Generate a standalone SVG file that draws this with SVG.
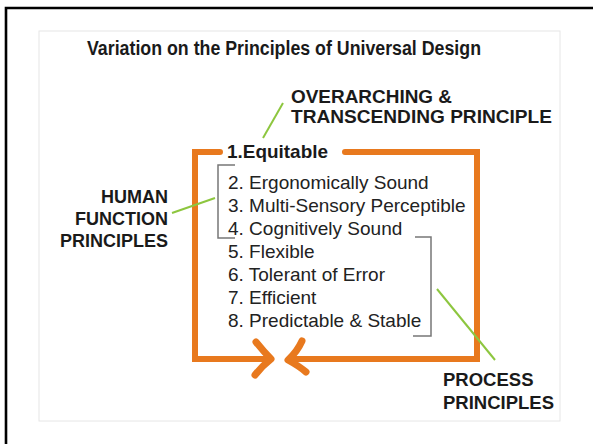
<svg xmlns="http://www.w3.org/2000/svg" width="593" height="444" viewBox="0 0 593 444">
<style>
.b{font-family:"Liberation Sans",Arial,sans-serif;font-weight:bold;fill:#1a1a1a}
.r{font-family:"Liberation Sans",Arial,sans-serif;fill:#222}
.o{fill:none;stroke:#E8791E;stroke-width:6;stroke-linecap:round;stroke-linejoin:miter}
.a{fill:none;stroke:#E8791E;stroke-width:7;stroke-linecap:round;stroke-linejoin:round}
.g{fill:none;stroke:#8DC63F;stroke-width:2}
.k{fill:none;stroke:#777;stroke-width:1.5}
</style>
<rect width="593" height="444" fill="#fff"/>
<path d="M6 444 V8 H593" fill="none" stroke="#000" stroke-width="2.6"/>
<rect x="39" y="31" width="521" height="390" fill="#fff" stroke="#e6e6e6" stroke-width="1"/>
<g id="title"><text class="b" x="87" y="55" font-size="19.5" textLength="394" lengthAdjust="spacingAndGlyphs">Variation on the Principles of  Universal Design</text></g>
<g id="connectors">
<path class="o" d="M220 152 H195 V359 H270"/>
<path class="a" d="M256 342 Q264 352 271 359 Q262 366 255 375"/>
<path class="o" d="M345 152 H477 V359 H290"/>
<path class="a" d="M302 341 Q297 352 288 360 Q299 366 306 372"/>
<path class="k" d="M235 165 H218 V238 H235"/>
<path class="k" d="M415 237 H431 V336 H413"/>
<line class="g" x1="283" y1="103" x2="263" y2="138"/>
<line class="g" x1="172" y1="213" x2="215" y2="198"/>
<line class="g" x1="437" y1="289" x2="495" y2="360"/>
</g>
<g id="overarching"><text class="b" font-size="19"><tspan x="291" y="103" textLength="161" lengthAdjust="spacingAndGlyphs">OVERARCHING &amp;</tspan><tspan x="291" y="123" textLength="261" lengthAdjust="spacingAndGlyphs">TRANSCENDING PRINCIPLE</tspan></text></g>
<g id="human"><text class="b" font-size="18" text-anchor="end"><tspan x="168" y="203">HUMAN</tspan><tspan x="168" y="225">FUNCTION</tspan><tspan x="168" y="247">PRINCIPLES</tspan></text></g>
<g id="process"><text class="b" font-size="18.5"><tspan x="443" y="386">PROCESS</tspan><tspan x="443" y="409">PRINCIPLES</tspan></text></g>
<g id="equitable"><text class="b" x="227" y="158" font-size="19" textLength="101" lengthAdjust="spacingAndGlyphs">1.Equitable</text></g>
<g id="list"><text class="r" font-size="19">
<tspan x="228" y="189">2. Ergonomically Sound</tspan>
<tspan x="228" y="212">3. Multi-Sensory Perceptible</tspan>
<tspan x="228" y="235">4. Cognitively Sound</tspan>
<tspan x="228" y="258">5. Flexible</tspan>
<tspan x="228" y="281">6. Tolerant of Error</tspan>
<tspan x="228" y="304">7. Efficient</tspan>
<tspan x="228" y="327">8. Predictable &amp; Stable</tspan>
</text></g>
</svg>
